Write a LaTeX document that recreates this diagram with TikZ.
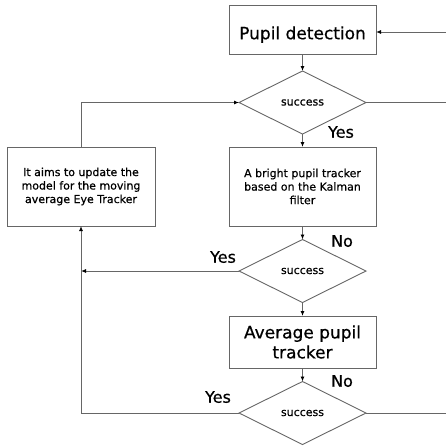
\documentclass[tikz,border=0pt]{standalone}
\usepackage{fontspec}
\setmainfont{DejaVu Sans}[FakeBold=0.6]
\usetikzlibrary{shapes.geometric, arrows.meta}

\tikzset{
  procbox/.style={draw=black!60, line width=0.9pt, rectangle, minimum width=147pt, inner sep=0pt, outer sep=0pt, align=center},
  decide/.style={draw=black!60, line width=0.9pt, diamond, minimum width=127pt, minimum height=63pt, inner sep=0pt, outer sep=0pt, font=\fontsize{11}{13}\selectfont},
  link/.style={draw=black!60, line width=0.9pt},
  flow/.style={link, -{Latex[length=5pt, width=4pt, color=black]}},
  bigtext/.style={font=\fontsize{17}{20}\selectfont},
  smalltext/.style={font=\fontsize{11}{13.5}\selectfont},
  branch/.style={font=\fontsize{16}{19}\selectfont},
}

\begin{document}
\begin{tikzpicture}[x=1pt, y=-1pt]
      \useasboundingbox (0,0) rectangle (446,445);

      % Main column
      \node[procbox, bigtext, minimum height=49pt, text height=23pt] (detect) at (302.5,29.5) {Pupil detection};
      \node[decide] (ok1) at (302.5,102.5) {success};
      \node[procbox, smalltext, minimum height=79pt] (kalman) at (302.5,186.5) {A bright pupil tracker\\based on the Kalman\\filter};
      \node[decide] (ok2) at (302.5,271) {success};
      \node[procbox, bigtext, minimum height=52pt] (avg) at (302.5,342) {Average pupil\\tracker};
      \node[decide] (ok3) at (302.5,413) {success};

      % Model update box
      \node[procbox, smalltext, minimum width=148pt, minimum height=79pt] (update) at (81,186.5) {It aims to update the\\model for the moving\\average Eye Tracker};

      % Branch labels
      \node[branch] (yes1) at (341,132) {Yes};
      \node[branch] (no2) at (342,241) {No};
      \node[branch] (yes2) at (223,257) {Yes};
      \node[branch] (no3) at (342,381) {No};
      \node[branch] (yes3) at (218,397) {Yes};

      % Loose ends at the right edge
      \coordinate (back) at (446,32);
      \coordinate (out1) at (446,102.5);
      \coordinate (out3) at (446,413);

      % Down the column
      \draw[flow] (detect) -- (ok1);
      \draw[flow] (ok1) -- (kalman);
      \draw[flow] (kalman) -- (ok2);
      \draw[flow] (ok2) -- (avg);
      \draw[flow] (avg) -- (ok3);

      % Loop on the left
      \draw[flow] (update.north) |- (ok1.west);
      \draw[flow] (ok2.west) -- (ok2.west -| update.south);
      \draw[flow] (ok3.west) -| (update.south);

      % Right side
      \draw[flow] (back) -- (detect.east |- back);
      \draw[link] (ok1.east) -- (out1);
      \draw[link] (ok3.east) -- (out3);
    \end{tikzpicture}
\end{document}
